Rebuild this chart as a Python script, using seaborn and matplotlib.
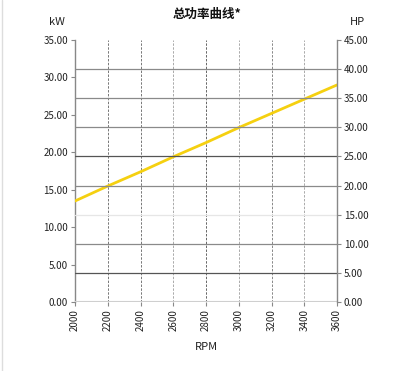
import matplotlib
matplotlib.use("Agg")
import matplotlib.pyplot as plt
import seaborn as sns
import pandas as pd
from matplotlib.lines import Line2D

rpm = [2000, 2200, 2400, 2600, 2800, 3000, 3200, 3400, 3600]
power_kw = [13.5, 15.5, 17.4, 19.4, 21.3, 23.3, 25.2, 27.1, 29.0]
kw_ticks = [0, 5, 10, 15, 20, 25, 30, 35]
hp_ticks = [0, 5, 10, 15, 20, 25, 30, 35, 40, 45]
title = "总功率曲线*"

sns.set_theme(style="white")
plt.rcParams['font.family'] = ['Noto Sans CJK SC', 'DejaVu Sans']

df = pd.DataFrame({"RPM": rpm, "kW": power_kw})

fig = plt.figure(figsize=(4.15, 3.71), dpi=100)
ax = fig.add_axes([0.181, 0.186, 0.631, 0.706])
ax2 = ax.twinx()

# horizontal grid lines on HP scale
hp_grid_colors = {5: "#555555", 10: "#8a8a8a", 15: "#e6e6e6", 20: "#8a8a8a",
                  25: "#555555", 30: "#8a8a8a", 35: "#8a8a8a", 40: "#8a8a8a"}
for v, c in hp_grid_colors.items():
    ax2.axhline(v, color=c, lw=0.9, zorder=0)
ax2.axhline(0, color="#cfcfcf", lw=1.5, zorder=0)

# vertical dashed grid lines
v_grid_colors = {2200: "#777777", 2400: "#777777", 2600: "#aaaaaa", 2800: "#666666",
                 3000: "#aaaaaa", 3200: "#888888", 3400: "#aaaaaa"}
for v, c in v_grid_colors.items():
    ax.axvline(v, color=c, lw=0.7, ls=(0, (2.5, 1.5)), zorder=0)

sns.lineplot(data=df, x="RPM", y="kW", ax=ax, color="#f5d010", lw=2.0, zorder=5)

ax.set_xlim(2000, 3600)
ax.set_ylim(0, 35)
ax2.set_ylim(0, 45)
ax.set_xticks(rpm)
ax.set_xticklabels([str(r) for r in rpm], rotation=90)
ax.set_yticks(kw_ticks)
ax.set_yticklabels([f"{v:.2f}" for v in kw_ticks])
ax2.set_yticks(hp_ticks)
ax2.set_yticklabels([f"{v:.2f}" for v in hp_ticks])

for a in (ax, ax2):
    a.tick_params(axis="both", labelsize=7, colors="#222222", length=3,
                  width=0.8, direction="out", pad=2)
    for s in a.spines.values():
        s.set_visible(False)
    a.set_facecolor("none")
ax.tick_params(axis="both", color="#888888", labelcolor="#222222")
ax2.tick_params(axis="y", color="#888888", labelcolor="#222222")
ax.yaxis.set_ticks_position("left")
ax.xaxis.set_ticks_position("bottom")
ax2.spines["right"].set_visible(True)
ax2.spines["right"].set_color("#888888")
ax2.spines["right"].set_linewidth(1.0)
ax.spines["left"].set_visible(True)
ax.spines["left"].set_color("#888888")
ax.spines["left"].set_linewidth(1.0)

ax.set_xlabel("RPM", fontsize=8, color="#222222", labelpad=8)
ax.set_ylabel("")
ax2.set_ylabel("")

fig.text(0.5, 0.962, title, ha="center", va="center", fontsize=9,
         fontweight="bold", color="#111111")
fig.text(0.138, 0.940, "kW", ha="center", va="center", fontsize=8, color="#222222")
fig.text(0.862, 0.940, "HP", ha="center", va="center", fontsize=8, color="#222222")

fig.add_artist(Line2D([0.004, 0.004], [0, 1], transform=fig.transFigure,
                      color="#dddddd", lw=1.0))

fig.savefig("out.png", dpi=100, facecolor="white")
